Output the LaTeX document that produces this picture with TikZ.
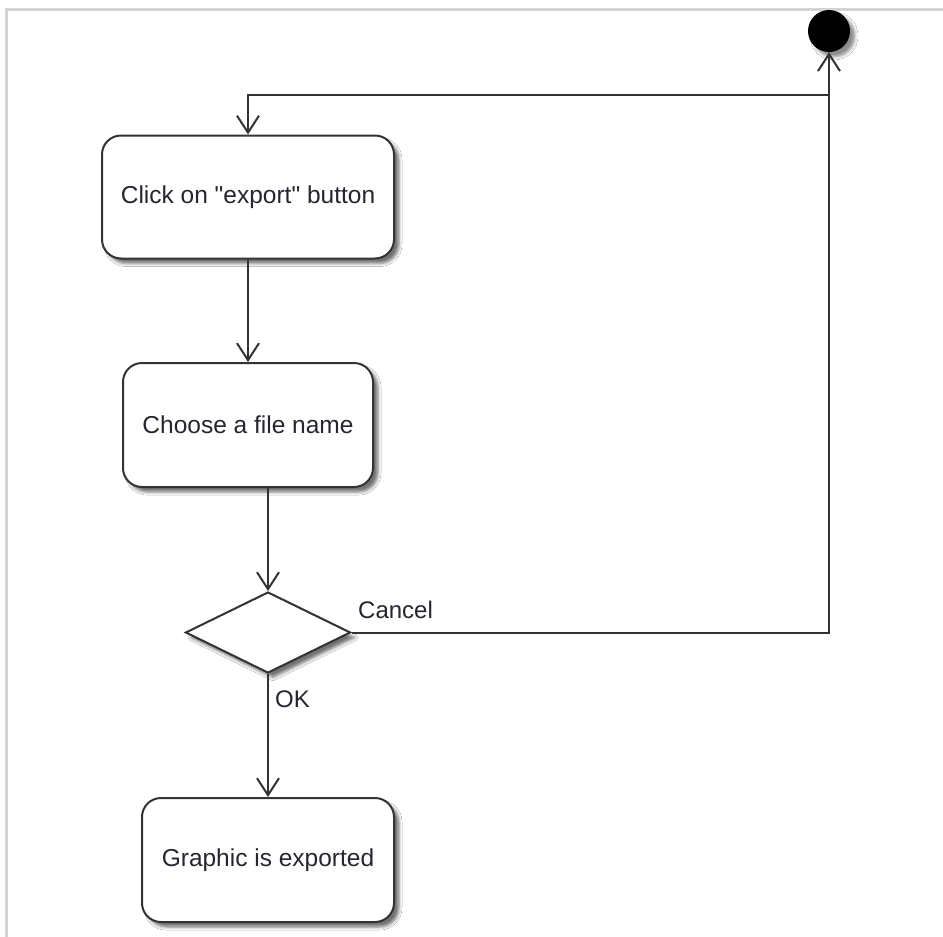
\documentclass[tikz,border=0pt]{standalone}
\usepackage{fontspec}
\setmainfont{Liberation Sans}
\usetikzlibrary{arrows.meta,shapes.geometric,shadows.blur}
\definecolor{edge}{HTML}{333333}
\definecolor{frame}{HTML}{D4D4D4}
\definecolor{ink}{HTML}{262630}
\tikzset{
  actbox/.style={draw=edge, line width=2pt, fill=white, rounded corners=19pt,
    inner sep=0pt, text=ink, font=\fontsize{24.5}{29}\selectfont,
    blur shadow={shadow xshift=5pt, shadow yshift=-5pt, shadow blur radius=3pt, shadow opacity=55}},
  choice/.style={draw=edge, line width=2pt, fill=white, diamond, inner sep=0pt,
    minimum width=165pt, minimum height=81pt,
    blur shadow={shadow xshift=5pt, shadow yshift=-5pt, shadow blur radius=3pt, shadow opacity=55}},
  startdot/.style={circle, fill=black, minimum size=42pt, inner sep=0pt,
    blur shadow={shadow xshift=5pt, shadow yshift=-5pt, shadow blur radius=3pt, shadow opacity=45}},
  flow/.style={draw=edge, line width=2pt,
    -{Straight Barb[length=17pt, width=22pt, line width=2pt]}},
  guard/.style={text=ink, font=\fontsize{24}{28}\selectfont, inner sep=0pt}
}
\begin{document}
\begin{tikzpicture}[x=1pt, y=-1pt]
  \useasboundingbox (0,0) rectangle (943,937);
  \fill[white] (0,0) rectangle (943,937);
  % window frame
  \draw[frame, line width=2.5pt] (6.5,937) -- (6.5,9.5) -- (943,9.5);

  % nodes
  \node[startdot] (start) at (829,31) {};
  \node[actbox, minimum width=292pt, minimum height=123pt] (export) at (248,197)
    {Click on \textquotedbl export\textquotedbl\ button};
  \node[actbox, minimum width=250pt, minimum height=124pt] (choose) at (248,425) {Choose a file name};
  \node[choice] (dec) at (268,632.5) {};
  \node[actbox, minimum width=252pt, minimum height=124pt] (done) at (268,860) {Graphic is exported};

  \coordinate (corner) at (829,95);

  % connectors
  \draw[flow] (export) -- (choose);
  \draw[flow] (dec.north |- choose.south) -- (dec.north);
  \draw[flow] (dec.south) -- (done.north);
  \draw[flow] (dec.east) -| (start.south);
  \draw[flow] (corner) -| (export.north);

  % guards
  \node[guard, anchor=base west] (cancel) at (358,618) {Cancel};
  \node[guard, anchor=base west] (ok) at (275,707) {OK};
\end{tikzpicture}
\end{document}
